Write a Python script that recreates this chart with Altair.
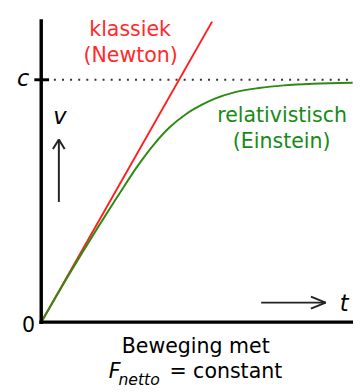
import altair as alt
import pandas as pd

# ---- data (v in units of c, t in units where the classical line has slope 1) ----
newton_t = [0.0, 1.24]
newton_v = [0.0, 1.24]

einstein_t = [0.0, 0.20, 0.41, 0.55, 0.70, 0.82, 0.93, 1.05, 1.16, 1.26, 1.40, 1.58, 1.76, 1.97, 2.26]
einstein_v = [0.0, 0.195, 0.39, 0.515, 0.645, 0.735, 0.803, 0.858, 0.895, 0.922, 0.948, 0.966, 0.977, 0.984, 0.988]

c_value = 1.0

# ---- view ----
W, H = 353, 384
XDOM = [-0.2411, 2.2624]
YDOM = [-0.2702, 1.2782]

xs = alt.Scale(domain=XDOM, nice=False, zero=False)
ys = alt.Scale(domain=YDOM, nice=False, zero=False)

def X(f="t"):
    return alt.X(f"{f}:Q", scale=xs, axis=None)

def Y(f="v"):
    return alt.Y(f"{f}:Q", scale=ys, axis=None)

def segs(rows, **kw):
    df = pd.DataFrame(rows, columns=["t", "v", "t2", "v2"])
    return alt.Chart(df).mark_rule(**kw).encode(
        x=X("t"), y=Y("v"), x2=alt.X2("t2"), y2=alt.Y2("v2")
    )

def text(rows, **kw):
    df = pd.DataFrame(rows, columns=["label", "t", "v"])
    return alt.Chart(df).mark_text(baseline="alphabetic", font="DejaVu Sans", **kw).encode(
        x=X("t"), y=Y("v"), text="label:N"
    )

newton = alt.Chart(pd.DataFrame({"t": newton_t, "v": newton_v})).mark_line(
    color="#ff1f1f", strokeWidth=2
).encode(x=X(), y=Y())

einstein = alt.Chart(pd.DataFrame({"t": einstein_t, "v": einstein_v})).mark_line(
    color="#2f8a12", strokeWidth=2, interpolate="monotone"
).encode(x=X(), y=Y())

c_line = segs([[0.092, c_value, XDOM[1], c_value]], color="#333333", strokeWidth=2,
              strokeDash=[2, 6.3])

axes = segs([[0, -0.008, 0, 1.25], [-0.014, 0, XDOM[1], 0]], color="black", strokeWidth=3.5)
ctick = segs([[-0.05, c_value, 0.057, c_value]], color="black", strokeWidth=3)

arrows = segs([
    [0.128, 0.496, 0.128, 0.754],
    [0.085, 0.714, 0.128, 0.754],
    [0.170, 0.714, 0.128, 0.754],
    [1.596, 0.0806, 2.064, 0.0806],
    [1.957, 0.105, 2.064, 0.0806],
    [1.957, 0.056, 2.064, 0.0806],
], color="#222222", strokeWidth=2)

red_txt = text([["klassiek", 0.645, 1.181], ["(Newton)", 0.649, 1.075]],
               fontSize=21, color="#ff2a2a", align="center")
green_txt = text([["relativistisch", 1.748, 0.827], ["(Einstein)", 1.745, 0.719]],
                 fontSize=21, color="#178a17", align="center")
ital_txt = text([["c", -0.131, 0.976], ["v", 0.135, 0.819], ["t", 2.199, 0.048]],
                fontSize=23, fontStyle="italic", color="black", align="center")
zero_txt = text([["0", -0.092, -0.040]], fontSize=21, color="black", align="center")
title1 = text([["Beweging met", 1.121, -0.129]], fontSize=21, color="black", align="center")
f_txt = text([["F", 0.49, -0.230]], fontSize=21, fontStyle="italic", color="black", align="left")
sub_txt = text([["netto", 0.56, -0.258]], fontSize=16, fontStyle="italic", color="black", align="left")
eq_txt = text([["= constant", 0.93, -0.230]], fontSize=21, color="black", align="left")

chart = alt.layer(
    c_line, newton, einstein, axes, ctick, arrows,
    red_txt, green_txt, ital_txt, zero_txt, title1, f_txt, sub_txt, eq_txt
).properties(
    width=W, height=H, autosize=alt.AutoSizeParams(type="none"), padding=0
).configure_view(stroke=None)

chart.save("out.html", embed_options={"renderer": "svg", "actions": False})
